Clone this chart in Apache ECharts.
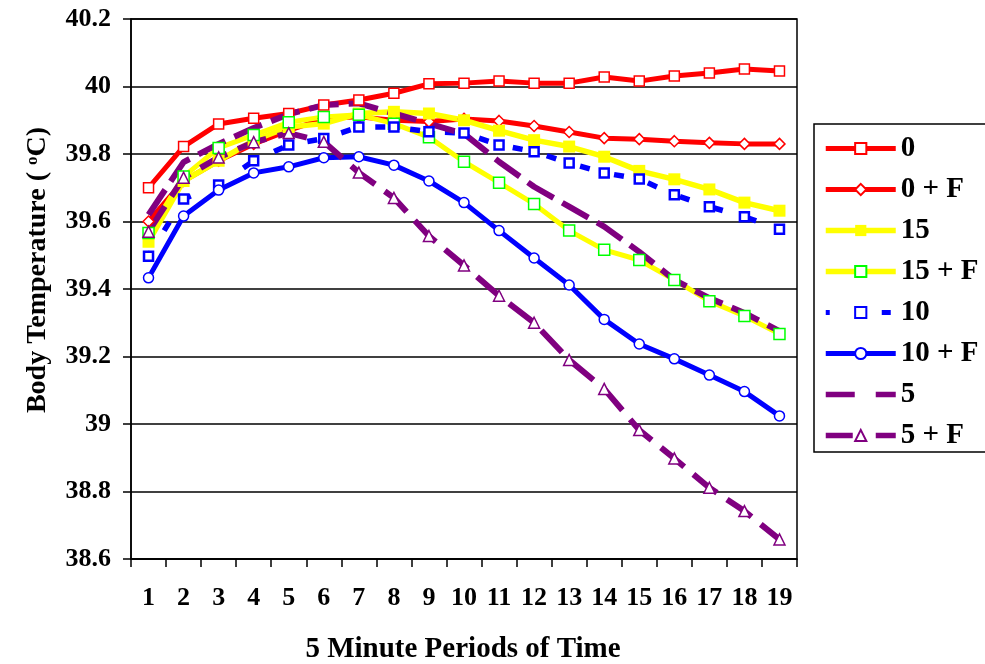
<!DOCTYPE html>
<html>
<head>
<meta charset="utf-8">
<script src="https://cdn.jsdelivr.net/npm/echarts@6/dist/echarts.min.js"></script>
<style>
html,body{margin:0;padding:0;background:#fff;}
#chart{width:985px;height:664px;}
</style>
</head>
<body>
<div id="chart"></div>
<script>
var categories = ['1','2','3','4','5','6','7','8','9','10','11','12','13','14','15','16','17','18','19'];
var yTicks = [38.6, 38.8, 39, 39.2, 39.4, 39.6, 39.8, 40, 40.2];

var s0   = [39.70, 39.822, 39.889, 39.906, 39.92, 39.945, 39.96, 39.98, 40.008, 40.01, 40.016, 40.01, 40.01, 40.028, 40.016, 40.031, 40.04, 40.052, 40.046];
var s0F  = [39.60, 39.72, 39.78, 39.83, 39.87, 39.905, 39.91, 39.90, 39.896, 39.904, 39.898, 39.883, 39.865, 39.847, 39.844, 39.838, 39.833, 39.83, 39.83];
var s15  = [39.54, 39.72, 39.78, 39.84, 39.88, 39.89, 39.92, 39.925, 39.92, 39.90, 39.869, 39.841, 39.822, 39.792, 39.75, 39.725, 39.695, 39.656, 39.632];
var s15F = [39.566, 39.733, 39.818, 39.856, 39.894, 39.91, 39.916, 39.89, 39.85, 39.777, 39.715, 39.652, 39.573, 39.516, 39.486, 39.427, 39.364, 39.32, 39.267];
var s10  = [39.497, 39.667, 39.708, 39.78, 39.827, 39.846, 39.88, 39.88, 39.866, 39.862, 39.827, 39.807, 39.773, 39.744, 39.726, 39.679, 39.644, 39.614, 39.577];
var s10F = [39.433, 39.616, 39.693, 39.744, 39.762, 39.789, 39.792, 39.767, 39.72, 39.656, 39.573, 39.492, 39.412, 39.31, 39.237, 39.193, 39.145, 39.096, 39.024];
var s5   = [39.62, 39.776, 39.83, 39.877, 39.918, 39.945, 39.95, 39.92, 39.89, 39.86, 39.777, 39.703, 39.644, 39.585, 39.51, 39.427, 39.373, 39.329, 39.275];
var s5F  = [39.57, 39.73, 39.79, 39.835, 39.862, 39.836, 39.745, 39.67, 39.557, 39.47, 39.38, 39.30, 39.19, 39.104, 38.982, 38.898, 38.811, 38.742, 38.658];

var seriesNames = ['0', '0 + F', '15', '15 + F', '10', '10 + F', '5', '5 + F'];

var FONT = '"Liberation Serif", "Times New Roman", serif';
var RED = '#FF0000', YEL = '#FFFF00', GRN = '#00FF00', BLU = '#0000FF', PUR = '#800080';

function mk(name, data, lineColor, width, dash, symbol, size, fill, border, bw, extra) {
  var s = {
    name: name, type: 'line', data: data, color: lineColor,
    symbol: symbol, symbolSize: size, showSymbol: symbol !== 'none',
    lineStyle: { color: lineColor, width: width, type: dash || 'solid' },
    itemStyle: { color: fill, borderColor: border, borderWidth: bw },
    emphasis: { disabled: true }
  };
  if (extra) { for (var k in extra) s.lineStyle[k] = extra[k]; }
  return s;
}

var legendData = [
  { name: seriesNames[0], lineStyle: { width: 5, type: 'solid' } },
  { name: seriesNames[1], lineStyle: { width: 5, type: 'solid' } },
  { name: seriesNames[2], lineStyle: { width: 5.5, type: 'solid' } },
  { name: seriesNames[3], lineStyle: { width: 5.5, type: 'solid' } },
  { name: seriesNames[4], lineStyle: { width: 5, type: [9, 52] } },
  { name: seriesNames[5], lineStyle: { width: 5, type: 'solid' } },
  { name: seriesNames[6], lineStyle: { width: 5.5, type: [34, 21] },
    itemStyle: { color: 'rgba(0,0,0,0)', borderColor: 'rgba(0,0,0,0)', borderWidth: 0 } },
  { name: seriesNames[7], lineStyle: { width: 5.5, type: [32, 23] } }
];

var chart = echarts.init(document.getElementById('chart'), null, { renderer: 'canvas' });
chart.setOption({
  animation: false,
  backgroundColor: '#fff',
  grid: { left: 131, top: 19, width: 666, height: 540, show: true, borderColor: '#000', borderWidth: 1.5, backgroundColor: 'transparent' },
  xAxis: {
    type: 'category', data: categories, boundaryGap: true,
    axisLine: { lineStyle: { color: '#000', width: 1.5 } },
    axisTick: { show: true, length: 8, inside: false, alignWithLabel: false, lineStyle: { color: '#000', width: 1.5 } },
    axisLabel: { margin: 26, fontFamily: FONT, fontWeight: 'bold', fontSize: 26, color: '#000' },
    splitLine: { show: false }
  },
  yAxis: {
    type: 'value', min: yTicks[0], max: yTicks[yTicks.length - 1], interval: 0.2,
    axisLine: { show: true, lineStyle: { color: '#000', width: 1.5 } },
    axisTick: { show: true, length: 8, inside: false, lineStyle: { color: '#000', width: 1.5 } },
    axisLabel: { margin: 20, fontFamily: FONT, fontWeight: 'bold', fontSize: 26, color: '#000',
      formatter: function (v) { return String(+(+v).toFixed(1)); } },
    splitLine: { show: true, lineStyle: { color: '#000', width: 1.5 } }
  },
  legend: {
    orient: 'vertical', left: 823, top: 134, padding: 0,
    itemWidth: 70, itemHeight: 14, itemGap: 12,
    data: legendData,
    textStyle: { fontFamily: FONT, fontWeight: 'bold', fontSize: 29, color: '#000' },
    selectedMode: false
  },
  graphic: [
    { type: 'rect', z: -1, shape: { x: 814, y: 124, width: 200, height: 328 },
      style: { fill: '#fff', stroke: '#000', lineWidth: 1.5 } },
    { type: 'text', x: 38, y: 270, rotation: Math.PI / 2,
      style: { text: 'Body Temperature ( {sup|o}C)', fontFamily: FONT, fontWeight: 'bold', fontSize: 28,
        fill: '#000', align: 'center', verticalAlign: 'middle',
        rich: { sup: { fontFamily: FONT, fontWeight: 'bold', fontSize: 17, verticalAlign: 'top', fill: '#000', padding: [0, 0, 10, 0] } } } },
    { type: 'text', x: 463, y: 650,
      style: { text: '5 Minute Periods of Time', fontFamily: FONT, fontWeight: 'bold', fontSize: 29,
        fill: '#000', align: 'center', verticalAlign: 'middle' } }
  ],
  series: [
    mk('0', s0, RED, 5, 'solid', 'rect', 10, '#fff', RED, 1.5),
    mk('0 + F', s0F, RED, 5, 'solid', 'diamond', 11, '#fff', RED, 1.5),
    mk('15', s15, YEL, 5.5, 'solid', 'rect', 12, YEL, YEL, 0),
    mk('15 + F', s15F, YEL, 5, 'solid', 'rect', 11, '#fff', GRN, 1.5),
    mk('10', s10, BLU, 5.5, [10, 25], 'rect', 9, '#fff', BLU, 2.5, { dashOffset: 5 }),
    mk('10 + F', s10F, BLU, 5, 'solid', 'circle', 10, '#fff', BLU, 1.5),
    mk('5', s5, PUR, 6, [30, 10], 'none', 0, PUR, PUR, 0),
    mk('5 + F', s5F, PUR, 6, [30, 12], 'triangle', 11, '#fff', PUR, 1.5)
  ]
});
</script>
</body>
</html>
